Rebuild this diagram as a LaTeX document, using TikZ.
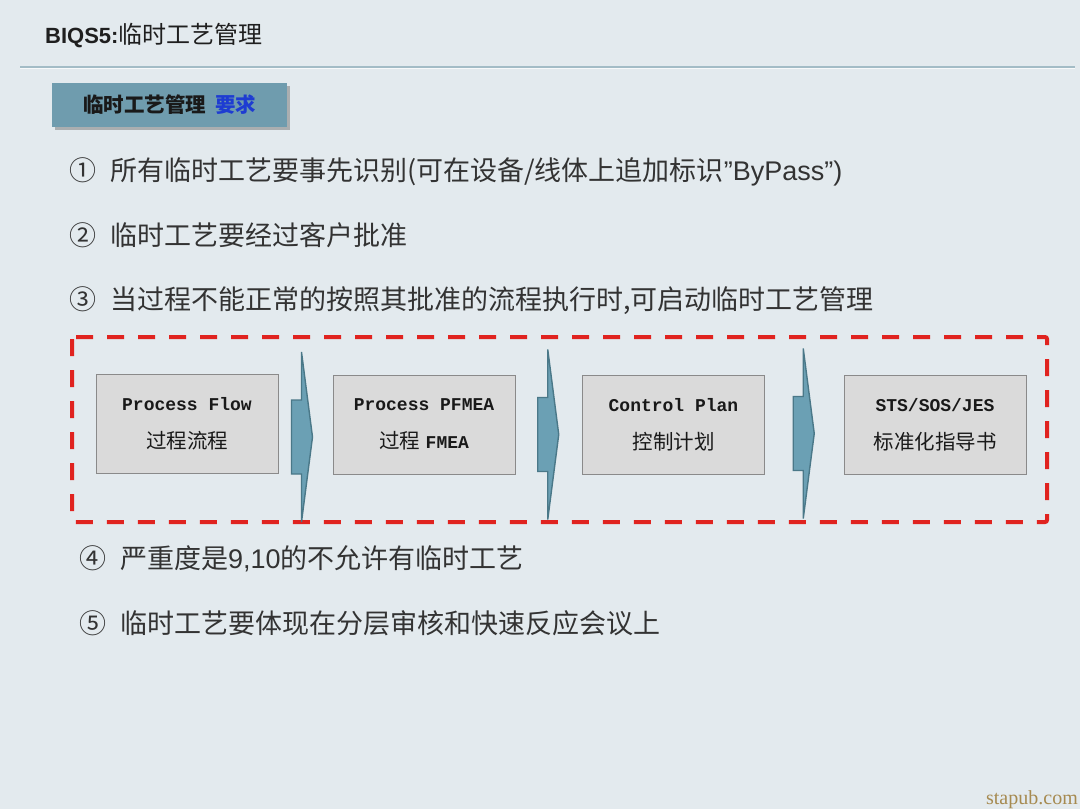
\documentclass[tikz,border=0pt]{standalone}
\usepackage{fontspec}
\setmainfont{Liberation Sans}
\newfontfamily\cjk{Noto Sans CJK SC}
\newfontfamily\mono{Liberation Mono}
\newfontfamily\wserif{Liberation Serif}
\usetikzlibrary{calc,shadows}
\definecolor{bgc}{HTML}{E3EAEE}
\definecolor{tagc}{HTML}{6F9CAE}
\definecolor{arrfill}{HTML}{6BA0B4}
\definecolor{arrline}{HTML}{4A7888}
\definecolor{dashred}{HTML}{E0231F}
\definecolor{boxfill}{HTML}{DADADA}
\definecolor{boxline}{HTML}{8A8A8A}
\definecolor{txt}{HTML}{333333}
\definecolor{wm}{HTML}{A68A50}
\definecolor{reqblue}{HTML}{1E3CD2}
\definecolor{rulec}{HTML}{A3BCC6}
\newcommand\latmono{\mono\bfseries\fontsize{18}{38}\selectfont}
\tikzset{
  item/.style={anchor=base west, inner sep=0pt, text=txt, font=\fontsize{27}{30}\selectfont\cjk},
  stepbox/.style={draw=boxline, line width=0.8pt, fill=boxfill, minimum width=182pt, minimum height=99pt,
    inner sep=0pt, align=center, text=black!90, font=\fontsize{20.5}{38}\selectfont},
  tagbox/.style={fill=tagc, minimum width=235pt, minimum height=44pt, inner sep=0pt,
    font=\fontsize{20.5}{24}\selectfont\cjk\bfseries, text=black!90,
    drop shadow={shadow xshift=3pt, shadow yshift=-3pt, opacity=0.45, fill=black!60}},
  arrowshape/.style={fill=arrfill, draw=arrline, line width=1.4pt, line join=miter},
  blockarrow/.pic={
    \filldraw[arrowshape] (-11,-37) -- (-1,-37) -- (-1,-85) -- (10,0) -- (-1,85) -- (-1,37) -- (-11,37) -- cycle;
  }
}
\begin{document}
\begin{tikzpicture}[x=1pt,y=-1pt]
\useasboundingbox (0,0) rectangle (1080,809);
\fill[bgc] (0,0) rectangle (1080,809);

% title
\node[anchor=base west, inner sep=0pt, font=\fontsize{22}{26}\selectfont, text=black!88] (title) at (45,43)
  {\bfseries BIQS5:{\mdseries\cjk\fontsize{24}{26}\selectfont 临时工艺管理}};
\draw[rulec, line width=1.3pt] (20,67) -- (1075,67);
\draw[white!70!bgc, line width=0.8pt] (20,68.5) -- (1075,68.5);

% tag
\node[tagbox] (tag) at (169.5,105) {临时工艺管理\hspace{9pt}\textcolor{reqblue}{要求}};

% items
\node[item] (t1) at (69,180) {①\hspace{14pt}所有临时工艺要事先识别(可在设备/线体上追加标识{\rmfamily ”ByPass”)}};
\node[item] (t2) at (69,245) {②\hspace{14pt}临时工艺要经过客户批准};
\node[item] (t3) at (69,309) {③\hspace{14pt}当过程不能正常的按照其批准的流程执行时,可启动临时工艺管理};
\node[item] (t4) at (79,568) {④\hspace{14pt}严重度是{\rmfamily 9,10}的不允许有临时工艺};
\node[item] (t5) at (79,633) {⑤\hspace{14pt}临时工艺要体现在分层审核和快速反应会议上};

% dashed frame
\draw[dashred, line width=4pt, dash pattern=on 17pt off 14pt, rounded corners=2pt] (72,337) rectangle (1047,522);

% process boxes
\node[stepbox] (b1) at (187,423.5) {{\latmono Process Flow}\\{\cjk 过程流程}};
\node[stepbox] (b2) at (424,424.5) {{\latmono Process PFMEA}\\{\cjk 过程} {\latmono FMEA}};
\node[stepbox] (b3) at (673.5,424.5) {{\latmono Control Plan}\\{\cjk 控制计划}};
\node[stepbox] (b4) at (935,424.5) {{\latmono STS/SOS/JES}\\{\cjk 标准化指导书}};

% block arrows between boxes
\pic at ($(b1.east)!0.5!(b2.west)+(-3,13)$) {blockarrow};
\pic at ($(b2.east)!0.5!(b3.west)+(0,10)$) {blockarrow};
\pic at ($(b3.east)!0.5!(b4.west)+(0,9)$) {blockarrow};

% watermark
\node[anchor=base east, inner sep=0pt, font=\fontsize{20}{24}\selectfont\wserif, text=wm] (wm) at (1078,804) {stapub.com};
\end{tikzpicture}
\end{document}
